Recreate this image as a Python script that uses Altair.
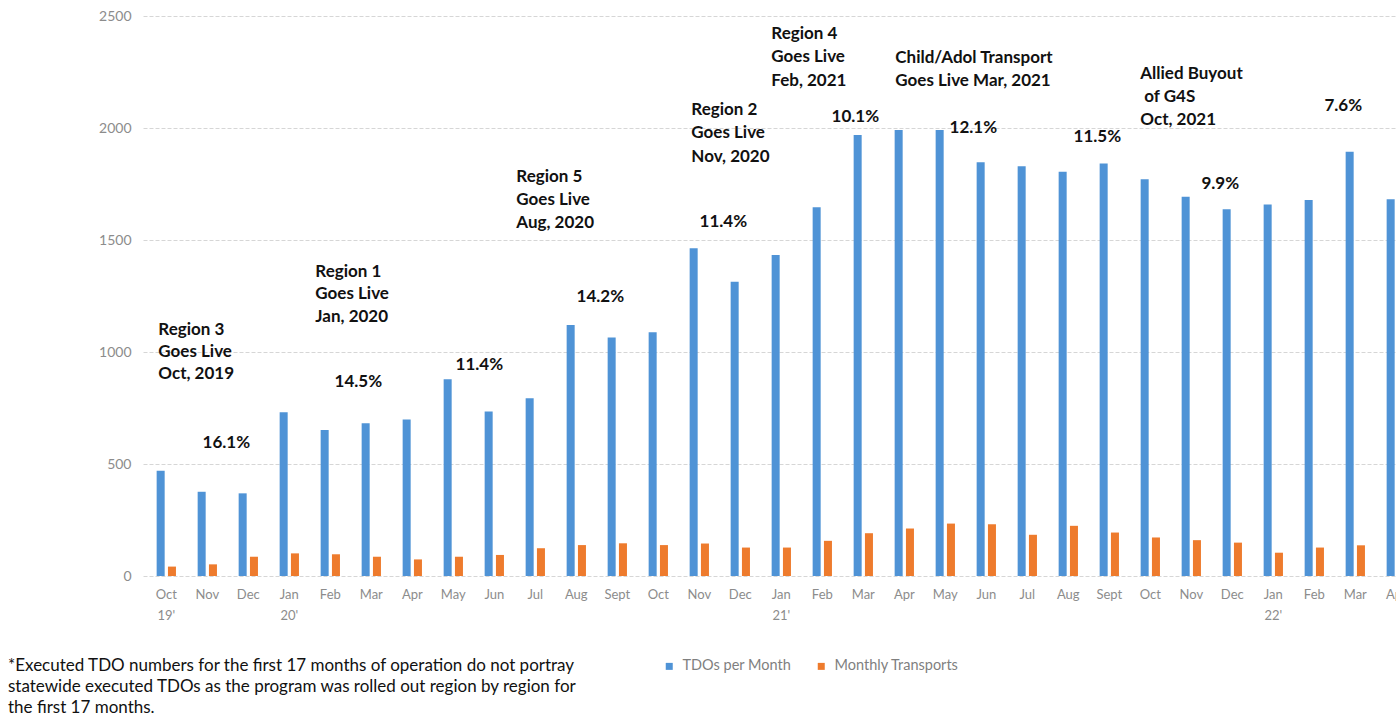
import json
import altair as alt
import pandas as pd

# ---------------- data ----------------
keys = [f"m{i:02d}" for i in range(31)]
tick_labels = ["Oct|19'", "Nov", "Dec", "Jan|20'", "Feb", "Mar", "Apr", "May", "Jun", "Jul",
               "Aug", "Sept", "Oct", "Nov", "Dec", "Jan|21'", "Feb", "Mar", "Apr", "May",
               "Jun", "Jul", "Aug", "Sept", "Oct", "Nov", "Dec", "Jan|22'", "Feb", "Mar", "Apr"]
series_names = ["TDOs per Month", "Monthly Transports"]
tdos = [470, 376, 369, 731, 652, 682, 699, 878, 734, 793, 1120, 1065, 1088, 1463, 1314,
        1433, 1646, 1969, 1991, 1991, 1847, 1829, 1805, 1842, 1771, 1693, 1637, 1659,
        1679, 1894, 1682]
transports = [42, 52, 86, 101, 97, 86, 74, 86, 94, 124, 138, 146, 138, 145, 127,
              127, 157, 191, 212, 234, 231, 184, 224, 194, 172, 160, 149, 104,
              127, 137, None]

# milestone notes (one row per text line): month index, height in data units
note_text = ["Region 3", "Goes Live", "Oct, 2019",
             "Region 1", "Goes Live", "Jan, 2020",
             "Region 5", "Goes Live", "Aug, 2020",
             "Region 2", "Goes Live", "Nov, 2020",
             "Region 4", "Goes Live", "Feb, 2021",
             "Child/Adol Transport", "Goes Live Mar, 2021",
             "Allied Buyout", "of G4S", "Oct, 2021"]
note_month = [0, 0, 0, 3, 3, 3, 10, 10, 10, 13, 13, 13, 16, 16, 16, 17, 17, 24, 24, 24]
note_value = [1098, 1000, 902, 1357, 1259, 1156, 1781, 1679, 1576, 2080, 1978, 1871,
              2420, 2317, 2210, 2313, 2210, 2241, 2138, 2036]
note_dx = [-8, -8, -8, 26, 26, 26, -60, -60, -60, -8, -8, -8, -51, -51, -51, 32, 32,
           -10, -6, -10]

# quarterly transport share labels
pct_text = ["16.1%", "14.5%", "11.4%", "14.2%", "11.4%", "10.1%", "12.1%", "11.5%", "9.9%", "7.6%"]
pct_month = [1, 4, 7, 10, 13, 17, 19, 22, 25, 28]
pct_value = [594, 866, 942, 1246, 1580, 2049, 2000, 1960, 1750, 2098]
pct_dx = [19, 28, 26, 24, 24, -8, 28, 29, 29, 29]

footnote = ["*Executed TDO numbers for the first 17 months of operation do not portray",
            "statewide executed TDOs as the program was rolled out region by region for",
            "the first 17 months."]

# ---------------- tables ----------------
bars_df = pd.DataFrame({
    "key": keys * 2,
    "series": [series_names[0]] * 31 + [series_names[1]] * 31,
    "value": tdos + transports,
})
notes_df = pd.DataFrame({"key": [keys[i] for i in note_month], "value": note_value,
                         "text": note_text, "dx": note_dx})
pct_df = pd.DataFrame({"key": [keys[i] for i in pct_month], "value": pct_value,
                       "text": pct_text, "dx": pct_dx})

BLUE = "#4F93D6"
ORANGE = "#EE7B2D"
FONT = "Lato"

step = 41.0
p_in = 0.529
p_out = 0.333
x_range = step * (31 - p_in + 2 * p_out)

label_expr = f"split({json.dumps(tick_labels)}[indexof({json.dumps(keys)}, datum.value)], '|')"

x_enc = alt.X(
    "key:N", sort=keys,
    scale=alt.Scale(domain=keys, range=[0, x_range], paddingInner=p_in, paddingOuter=p_out),
    axis=alt.Axis(title=None, domain=False, ticks=False, grid=False, labelAngle=0,
                  labelExpr=label_expr, labelFont=FONT, labelFontSize=13,
                  labelColor="#8c8c8c", labelPadding=12, labelLineHeight=21,
                  labelOverlap=False, labelBaseline="top"),
)
y_scale = alt.Scale(domain=[0, 2500], nice=False)

bars = alt.Chart(bars_df).mark_bar(clip=True).encode(
    x=x_enc,
    xOffset=alt.XOffset("series:N", sort=series_names,
                        scale=alt.Scale(domain=series_names, paddingInner=0.29, paddingOuter=0)),
    y=alt.Y("value:Q", scale=y_scale,
            axis=alt.Axis(title=None, values=[0, 500, 1000, 1500, 2000, 2500], format="d",
                          domain=False, ticks=False, grid=True, gridColor="#d6d6d6",
                          gridDash=[4, 2], gridWidth=1, labelFont=FONT, labelFontSize=14,
                          labelColor="#8c8c8c", labelPadding=12)),
    color=alt.Color("series:N", sort=series_names,
                    scale=alt.Scale(domain=series_names, range=[BLUE, ORANGE]),
                    legend=alt.Legend(title=None, orient="none", direction="horizontal",
                                      legendX=519, legendY=643, symbolType="square",
                                      symbolSize=49, symbolStrokeWidth=0, labelFont=FONT,
                                      labelFontSize=14.5, labelColor="#7f7f7f",
                                      labelOffset=6, columnPadding=22)),
)

notes = alt.Chart(notes_df).mark_text(
    font=FONT, fontSize=17, fontWeight="bold", color="#111111", align="left",
    baseline="middle", dx=alt.ExprRef("datum.dx"),
).encode(
    x=alt.X("key:N", sort=keys),
    y=alt.Y("value:Q", scale=y_scale),
    text="text:N",
)

pcts = alt.Chart(pct_df).mark_text(
    font=FONT, fontSize=17, fontWeight="bold", color="#111111", align="center",
    baseline="middle", dx=alt.ExprRef("datum.dx"),
).encode(
    x=alt.X("key:N", sort=keys),
    y=alt.Y("value:Q", scale=y_scale),
    text="text:N",
)

chart = alt.layer(bars, notes, pcts).properties(
    width=1253,
    height=560,
    padding={"left": 143, "top": 16, "right": 0, "bottom": 144},
    autosize=alt.AutoSizeParams(type="none"),
    background="white",
    title=alt.TitleParams(text=footnote, orient="bottom", anchor="start", frame="group",
                          dx=-135, offset=-15, font=FONT, fontSize=17, fontWeight="normal",
                          color="#111111", lineHeight=21),
).configure_view(stroke=None)

chart.save("out.html", embed_options={"renderer": "svg", "actions": False})
